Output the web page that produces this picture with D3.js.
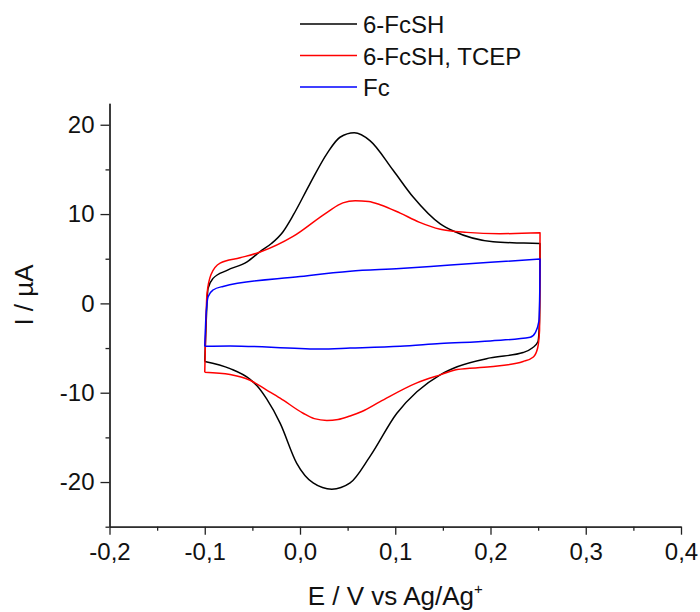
<!DOCTYPE html>
<html>
<head>
<meta charset="utf-8">
<script src="https://cdn.jsdelivr.net/npm/d3@7"></script>
<style>
 body{margin:0;background:#fff;}
 svg{display:block;font-family:"Liberation Sans",Arial,sans-serif;}
 .axis path,.axis line{stroke:#222;stroke-width:1.3;}
 .axis text{font-size:24px;fill:#111;font-family:"Liberation Sans",Arial,sans-serif;}
</style>
</head>
<body>
<div id="chart"></div>
<script>
(function(){
// [E in V vs Ag/Ag+, I in µA]; forward scan (E rising) and reverse scan (E falling)
const fcshFwd=[[-0.1,-6.5],[-0.0988,-3],[-0.0977,0],[-0.0965,1.7],[-0.0913,2.8],[-0.0766,3.7],[-0.0556,4.65],
 [-0.0419,5.8],[-0.03,6.7],[-0.018,8.0],[-0.007,9.9],[0.01,13.3],[0.0285,16.8],[0.042,18.6],[0.057,19.1],[0.0737,18.2],
 [0.0978,14.9],[0.1188,11.9],[0.1472,8.9],[0.161,8.1],[0.2028,6.9],[0.235,6.75],[0.252,6.7]];
const fcshRev=[[0.252,6.7],[0.2519,3],[0.2514,-2],[0.2498,-4.3],[0.2438,-5.0],[0.2343,-5.5],[0.1997,-6.1],[0.165,-7.1],
 [0.1472,-8.0],[0.1227,-9.9],[0.1017,-12.3],[0.0737,-17.1],[0.0526,-20.1],[0.0334,-20.8],[0.0138,-20.1],[-0.0034,-17.9],
 [-0.0209,-13.4],[-0.035,-10.7],[-0.0454,-9.2],[-0.0524,-8.5],[-0.0734,-7.3],[-0.1,-6.5]];
const tcepFwd=[[-0.1,-7.7],[-0.099,-3],[-0.0977,1],[-0.0935,3.2],[-0.0839,4.5],[-0.0629,5.1],[-0.0419,5.75],
 [-0.0073,7.5],[0.0285,10.2],[0.045,11.25],[0.058,11.5],[0.072,11.4],[0.0841,11.05],[0.1052,10.1],[0.125,9.1],
 [0.1472,8.3],[0.175,7.95],[0.21,7.8],[0.252,7.9]];
const tcepRev=[[0.252,7.9],[0.2519,3],[0.2515,-3],[0.2495,-5.0],[0.245,-6.0],[0.2343,-6.5],[0.1997,-7.1],[0.165,-7.4],
 [0.1472,-8.0],[0.1227,-8.9],[0.0841,-11.0],[0.065,-12.1],[0.0526,-12.6],[0.04,-13.0],[0.0282,-13.1],[0.015,-12.9],
 [0.0033,-12.3],[-0.0209,-10.6],[-0.035,-9.7],[-0.0524,-8.6],[-0.0734,-7.95],[-0.1,-7.7]];
const fcFwd=[[-0.1,-4.8],[-0.099,-2],[-0.0977,0],[-0.0965,0.75],[-0.0913,1.5],[-0.0808,1.9],[0,3.0],[0.0526,3.6],
 [0.105,3.9],[0.158,4.3],[0.2,4.6],[0.252,4.96]];
const fcRev=[[0.252,4.96],[0.2518,2],[0.2508,-2],[0.2469,-3.3],[0.2417,-3.8],[0.1997,-4.2],[0.1472,-4.5],[0.1052,-4.8],
 [0.0526,-5.0],[0.0211,-5.1],[0,-5.05],[-0.0734,-4.76],[-0.1,-4.8]];
const seriesNames=['6-FcSH','6-FcSH, TCEP','Fc'];
const seriesColors=['#000000','#ff0000','#0000ff'];
const xTicks=[-0.2,-0.1,0,0.1,0.2,0.3,0.4];
const xMinor=[-0.15,-0.05,0.05,0.15,0.25,0.35];
const yTicks=[-20,-10,0,10,20];
const yMinor=[-25,-15,-5,5,15];

const W=700,H=612;
const svg=d3.select('#chart').append('svg').attr('width',W).attr('height',H);
const x=d3.scaleLinear().domain([-0.2,0.4]).range([109.5,681]);
const y=d3.scaleLinear().domain([-25,22.4]).range([526.7,103.3]);
const fmt=d=>d3.format('.1f')(d).replace('.',',').replace('−','-');

// minor ticks first, majors on top
svg.append('g').attr('class','axis').attr('transform',`translate(0,${y(-25)})`)
 .call(d3.axisBottom(x).tickValues(xMinor).tickSize(4).tickSizeOuter(0).tickFormat(''));
svg.append('g').attr('class','axis').attr('transform',`translate(${x(-0.2)},0)`)
 .call(d3.axisLeft(y).tickValues(yMinor).tickSize(4).tickSizeOuter(0).tickFormat(''));
svg.append('g').attr('class','axis').attr('transform',`translate(0,${y(-25)})`)
 .call(d3.axisBottom(x).tickValues(xTicks).tickSize(8).tickSizeOuter(0).tickPadding(8).tickFormat(fmt));
svg.append('g').attr('class','axis').attr('transform',`translate(${x(-0.2)},0)`)
 .call(d3.axisLeft(y).tickValues(yTicks).tickSize(9).tickSizeOuter(0).tickPadding(6).tickFormat(d=>String(d)));

// axis titles
const xt=svg.append('text').attr('x',(x(-0.2)+x(0.4))/2).attr('y',605).attr('text-anchor','middle')
 .attr('font-size',26).attr('fill','#111');
xt.append('tspan').text('E / V vs Ag/Ag');
xt.append('tspan').text('+').attr('font-size',15).attr('dy',-11);
svg.append('text').attr('transform',`translate(33,${(y(-25)+y(22.4))/2-20}) rotate(-90)`)
 .attr('text-anchor','middle').attr('font-size',26).attr('fill','#111').text('I / µA');

// curves: each scan direction is monotone in E
const line=d3.line().x(d=>x(d[0])).y(d=>y(d[1])).curve(d3.curveMonotoneX);
[[fcshFwd,fcshRev],[tcepFwd,tcepRev],[fcFwd,fcRev]].forEach((s,i)=>{
 svg.append('path').attr('d',line(s[0])+line(s[1]).replace(/^M/,'L')).attr('fill','none')
  .attr('stroke',seriesColors[i]).attr('stroke-width',1.5).attr('stroke-linejoin','round');
});

// legend
const lg=svg.append('g').attr('transform','translate(300,24)');
seriesNames.forEach((n,i)=>{
 const r=lg.append('g').attr('transform',`translate(0,${i*31.5})`);
 r.append('line').attr('x1',0).attr('x2',57).attr('stroke',seriesColors[i]).attr('stroke-width',1.6);
 r.append('text').attr('x',63).attr('y',9).attr('font-size',24).attr('fill','#111').text(n);
});
})();
</script>
</body>
</html>
